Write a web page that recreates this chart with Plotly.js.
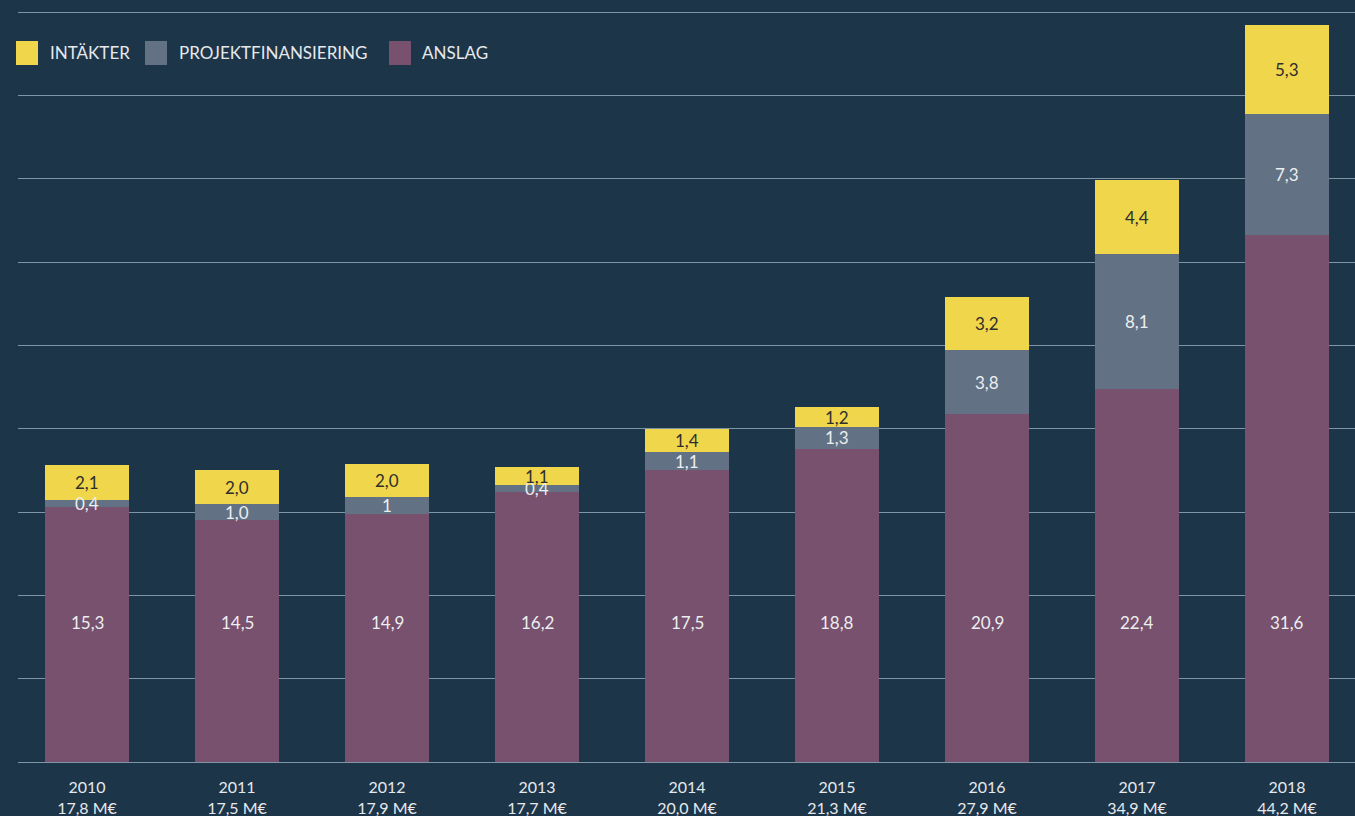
<!DOCTYPE html>
<html>
<head>
<meta charset="utf-8">
<script src="https://cdn.plot.ly/plotly-3.0.1.min.js"></script>
<style>
  html, body { margin: 0; padding: 0; background: #1d3549; }
  #chart { width: 1355px; height: 816px; }
</style>
</head>
<body>
<div id="chart"></div>
<script>
// years and segment values (M€)
const years = ['2010', '2011', '2012', '2013', '2014', '2015', '2016', '2017', '2018'];
const anslag = [15.3, 14.5, 14.9, 16.2, 17.5, 18.8, 20.9, 22.4, 31.6];
const projekt = [0.4, 1.0, 1.0, 0.4, 1.1, 1.3, 3.8, 8.1, 7.3];
const intakter = [2.1, 2.0, 2.0, 1.1, 1.4, 1.2, 3.2, 4.4, 5.3];
const totals = ['17,8', '17,5', '17,9', '17,7', '20,0', '21,3', '27,9', '34,9', '44,2'];
// labels as printed on the bars
const anslagLabels = ['15,3', '14,5', '14,9', '16,2', '17,5', '18,8', '20,9', '22,4', '31,6'];
const projektLabels = ['0,4', '1,0', '1', '0,4', '1,1', '1,3', '3,8', '8,1', '7,3'];
const intakterLabels = ['2,1', '2,0', '2,0', '1,1', '1,4', '1,2', '3,2', '4,4', '5,3'];

const seriesNames = ['INTÄKTER', 'PROJEKTFINANSIERING', 'ANSLAG'];

const BG = '#1d3549';
const YELLOW = '#f0d64a';
const GREY = '#627284';
const PURPLE = '#77516d';
const FONT = 'Lato, "Open Sans", sans-serif';

const x = years.map((y, i) => i);

const traces = [
  { name: 'ANSLAG', y: anslag, color: PURPLE },
  { name: 'PROJEKTFINANSIERING', y: projekt, color: GREY },
  { name: 'INTÄKTER', y: intakter, color: YELLOW }
].map(s => ({
  type: 'bar',
  name: s.name,
  x: x,
  y: s.y,
  width: 0.56,
  marker: { color: s.color, line: { width: 0 } },
  hoverinfo: 'y+name',
  showlegend: false
}));

// value labels
const annotations = [];
years.forEach((yr, i) => {
  annotations.push({
    x: i, y: 8.4, xref: 'x', yref: 'y', text: anslagLabels[i], showarrow: false,
    font: { family: FONT, size: 17, color: '#eceef0' }
  });
  annotations.push({
    x: i, y: anslag[i] + projekt[i] / 2, xref: 'x', yref: 'y', text: projektLabels[i], showarrow: false,
    font: { family: FONT, size: 17, color: '#eceef0' }
  });
  annotations.push({
    x: i, y: anslag[i] + projekt[i] + intakter[i] / 2, xref: 'x', yref: 'y', text: intakterLabels[i], showarrow: false,
    font: { family: FONT, size: 17, color: '#2e2e2e' }
  });
});

// custom legend (big squares), placed in pixels converted to paper units
const TOP = 4, BOTTOM = 54, LEFT = 18;
const W = 1355 - LEFT, H = 816 - TOP - BOTTOM;
const py = p => (816 - BOTTOM - p) / H;
const px = p => (p - LEFT) / W;
const legendItems = [
  { name: seriesNames[0], color: YELLOW, sq: 16, tx: 48 },
  { name: seriesNames[1], color: GREY, sq: 145, tx: 177 },
  { name: seriesNames[2], color: PURPLE, sq: 389, tx: 420 }
];
const shapes = [];
legendItems.forEach(it => {
  shapes.push({
    type: 'rect', xref: 'paper', yref: 'paper',
    x0: px(it.sq), x1: px(it.sq + 22),
    y0: py(65), y1: py(41),
    fillcolor: it.color, line: { width: 0 }
  });
  annotations.push({
    xref: 'paper', yref: 'paper', x: px(it.tx), y: py(53),
    xanchor: 'left', yanchor: 'middle', text: it.name, showarrow: false,
    font: { family: FONT, size: 17, color: '#e6e9ec' }
  });
});

const layout = {
  width: 1355,
  height: 816,
  margin: { l: LEFT, r: 0, t: TOP, b: BOTTOM },
  paper_bgcolor: BG,
  plot_bgcolor: BG,
  barmode: 'stack',
  showlegend: false,
  xaxis: {
    range: [-0.46, 8.453],
    tickmode: 'array',
    tickvals: x,
    ticktext: years.map((y, i) => y + '<br>' + totals[i] + ' M€'),
    tickfont: { family: FONT, size: 16, color: '#e6e9ec' },
    ticklabelstandoff: 14,
    showgrid: false,
    zeroline: false,
    showline: false,
    ticks: ''
  },
  yaxis: {
    range: [0, 45.48],
    tickvals: [0, 5, 10, 15, 20, 25, 30, 35, 40, 45],
    showticklabels: false,
    gridcolor: '#7f95a5',
    gridwidth: 1,
    zeroline: true,
    zerolinecolor: '#7f95a5',
    zerolinewidth: 1,
    ticks: ''
  },
  annotations: annotations,
  shapes: shapes
};

Plotly.newPlot('chart', traces, layout, { displayModeBar: false, staticPlot: true });
</script>
</body>
</html>
